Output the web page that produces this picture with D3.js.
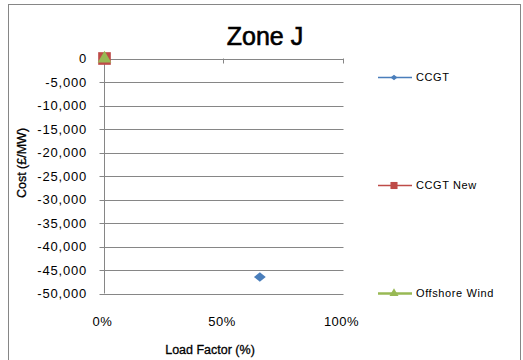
<!DOCTYPE html>
<html>
<head>
<meta charset="utf-8">
<script src="https://cdn.jsdelivr.net/npm/d3@7"></script>
<style>
  body { margin: 0; background: #fff; }
  text { font-family: "Liberation Sans", Arial, sans-serif; fill: #000; }
</style>
</head>
<body>
<svg id="chart"></svg>
<script>
var width = 523;
var height = 360;

// chart data
var seriesNames = ["CCGT", "CCGT New", "Offshore Wind"];
var loadFactor = [0.65, 0, 0];
var cost = [-46500, 0, 0];
var seriesColors = ["#4a7ebb", "#be4b48", "#98b954"];
var yTicks = [0, -5000, -10000, -15000, -20000, -25000, -30000, -35000, -40000, -45000, -50000];
var xTicks = [0, 0.5, 1];

// excel style diamond: a bit wider than tall
var wideDiamond = {
    draw: function (context, size) {
        var r = Math.sqrt(size) / 2;
        context.moveTo(-r * 1.25, 0);
        context.lineTo(0, -r);
        context.lineTo(r * 1.25, 0);
        context.lineTo(0, r);
        context.closePath();
    }
};
var seriesSymbols = [wideDiamond, d3.symbolSquare, d3.symbolTriangle];

var svg = d3.select("#chart")
    .attr("width", width)
    .attr("height", height);

// outer chart border
svg.append("rect")
    .attr("x", 8.5)
    .attr("y", 4.5)
    .attr("width", 512)
    .attr("height", 400)
    .attr("fill", "#fff")
    .attr("stroke", "#868686");

var x = d3.scaleLinear().domain([0, 1]).range([104.5, 343.5]);
var y = d3.scaleLinear().domain([-50000, 0]).range([293.5, 58.5]);

svg.append("text")
    .attr("x", 265)
    .attr("y", 45)
    .attr("text-anchor", "middle")
    .attr("font-size", "25px")
    .attr("stroke", "#000")
    .attr("stroke-width", 0.6)
    .text("Zone J");

// gridlines + y ticks
svg.selectAll(".grid")
    .data(yTicks)
    .enter()
    .append("line")
    .attr("x1", x(0) - 5)
    .attr("x2", x(1))
    .attr("y1", function (d) { return Math.round(y(d)) + 0.5; })
    .attr("y2", function (d) { return Math.round(y(d)) + 0.5; })
    .attr("stroke", "#868686")
    .attr("stroke-width", 1);

svg.selectAll(".ylabel")
    .data(yTicks)
    .enter()
    .append("text")
    .attr("x", 87)
    .attr("y", function (d) { return y(d); })
    .attr("dy", "0.35em")
    .attr("text-anchor", "end")
    .attr("font-size", "13px")
    .attr("letter-spacing", "0.8px")
    .text(function (d) { return d3.format(",")(d).replace("−", "-"); });

// y axis line
svg.append("line")
    .attr("x1", x(0)).attr("x2", x(0))
    .attr("y1", y(0)).attr("y2", y(-50000))
    .attr("stroke", "#868686");

// x axis sits on zero line, ticks down
svg.selectAll(".xtick")
    .data(xTicks)
    .enter()
    .append("line")
    .attr("x1", function (d) { return Math.round(x(d)) - 0.5; })
    .attr("x2", function (d) { return Math.round(x(d)) - 0.5; })
    .attr("y1", y(0))
    .attr("y2", y(0) + 5)
    .attr("stroke", "#868686");

svg.selectAll(".xlabel")
    .data(xTicks)
    .enter()
    .append("text")
    .attr("x", function (d) { return x(d) - 2; })
    .attr("y", 326)
    .attr("text-anchor", "middle")
    .attr("font-size", "13px")
    .attr("letter-spacing", "0.5px")
    .text(function (d) { return d3.format(".0%")(d); });

svg.append("text")
    .attr("x", 210)
    .attr("y", 354)
    .attr("text-anchor", "middle")
    .attr("font-size", "12.5px")
    .attr("stroke", "#000")
    .attr("stroke-width", 0.3)
    .text("Load Factor (%)");

svg.append("text")
    .attr("transform", "translate(26,163) rotate(-90)")
    .attr("text-anchor", "middle")
    .attr("font-size", "12.5px")
    .attr("stroke", "#000")
    .attr("stroke-width", 0.3)
    .text("Cost (£/MW)");

// points
var points = [];
for (var i = 0; i < seriesNames.length; i++) {
    points.push({ name: seriesNames[i], lf: loadFactor[i], cost: cost[i], i: i });
}

var plotSizes = [90, 160, 80];
svg.selectAll(".pt")
    .data(points)
    .enter()
    .append("path")
    .attr("transform", function (d) {
        return "translate(" + x(d.lf) + "," + y(d.cost) + ")";
    })
    .attr("d", function (d) {
        return d3.symbol().type(seriesSymbols[d.i]).size(plotSizes[d.i])();
    })
    .attr("fill", function (d) { return seriesColors[d.i]; });

// legend
var legendY = [77, 185, 293];
var legendSizes = [30, 50, 35];
var legend = svg.selectAll(".legend")
    .data(points)
    .enter()
    .append("g")
    .attr("transform", function (d) { return "translate(378," + legendY[d.i] + ")"; });

legend.append("line")
    .attr("x1", 0).attr("x2", 34)
    .attr("y1", 0.5).attr("y2", 0.5)
    .attr("stroke", function (d) { return seriesColors[d.i]; })
    .attr("stroke-width", function (d) { return d.i === 2 ? 2.5 : 1.5; });

legend.append("path")
    .attr("transform", "translate(16,0.5)")
    .attr("d", function (d) {
        return d3.symbol().type(seriesSymbols[d.i]).size(legendSizes[d.i])();
    })
    .attr("fill", function (d) { return seriesColors[d.i]; });

legend.append("text")
    .attr("x", 38)
    .attr("y", 0)
    .attr("dy", "0.35em")
    .attr("font-size", "11px")
    .attr("letter-spacing", "0.6px")
    .text(function (d) { return d.name; });
</script>
</body>
</html>
